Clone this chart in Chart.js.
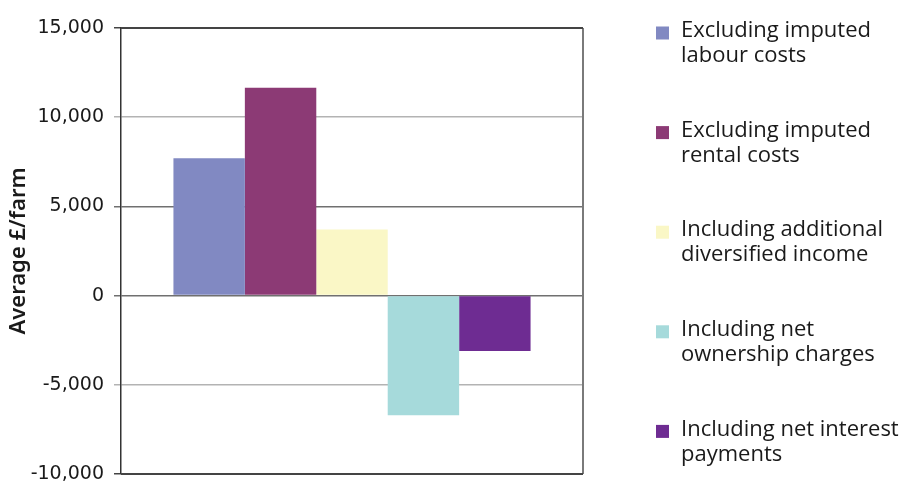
<!DOCTYPE html>
<html>
<head>
<meta charset="utf-8">
<title>Average £/farm</title>
<script src="https://cdn.jsdelivr.net/npm/chart.js@4/dist/chart.umd.min.js"></script>
<style>
  html, body { margin: 0; padding: 0; background: #ffffff; }
  #wrap { width: 904px; height: 486px; position: relative; }
</style>
</head>
<body>
<div id="wrap"><canvas id="chart"></canvas></div>
<script>
// Single category, one bar per measure
const categories = [''];
const seriesLabels = [
  ['Excluding imputed', 'labour costs'],
  ['Excluding imputed', 'rental costs'],
  ['Including additional', 'diversified income'],
  ['Including net', 'ownership charges'],
  ['Including net interest', 'payments']
];
const seriesValues = [7700, 11650, 3700, -6700, -3100];
const seriesColors = ['#8189c2', '#8c3a75', '#faf7c6', '#a6dadb', '#6e2c92'];
const yTicks = [-10000, -5000, 0, 5000, 10000, 15000];
const yTitle = 'Average £/farm';

const datasets = seriesValues.map((v, i) => ({
  label: seriesLabels[i],
  data: [v],
  backgroundColor: seriesColors[i],
  borderWidth: 0
}));

// Frame around the plot area
const framePlugin = {
  id: 'frame',
  afterDatasetsDraw(chart) {
    const { ctx, chartArea: a } = chart;
    ctx.save();
    ctx.lineWidth = 2;
    ctx.strokeStyle = '#7a7a7a';
    ctx.beginPath();
    ctx.moveTo(a.right, a.top);
    ctx.lineTo(a.right, a.bottom);
    ctx.stroke();
    ctx.strokeStyle = '#444444';
    ctx.beginPath();
    ctx.moveTo(a.left, a.top);
    ctx.lineTo(a.right, a.top);
    ctx.moveTo(a.left, a.bottom);
    ctx.lineTo(a.right, a.bottom);
    ctx.stroke();
    ctx.restore();
  }
};

// Two-line legend entries on the right
const sideLegend = {
  id: 'sideLegend',
  afterDraw(chart) {
    const { ctx } = chart;
    const boxX = 656, textX = 681, top = 31, step = 99.6, lineH = 25, box = 13;
    ctx.save();
    ctx.font = '22px "Open Sans"';
    ctx.textBaseline = 'middle';
    ctx.textAlign = 'left';
    chart.data.datasets.forEach((ds, i) => {
      const y = top + i * step;
      ctx.fillStyle = ds.backgroundColor;
      ctx.fillRect(boxX, y + 2 - box / 2, box, box);
      ctx.fillStyle = '#1a1a1a';
      ds.label.forEach((line, j) => ctx.fillText(line, textX, y + j * lineH));
    });
    ctx.restore();
  }
};

new Chart(document.getElementById('chart'), {
  type: 'bar',
  data: { labels: categories, datasets },
  options: {
    responsive: true,
    maintainAspectRatio: false,
    animation: false,
    layout: { padding: { top: 28, right: 321, bottom: 12, left: 0 } },
    datasets: { bar: { categoryPercentage: 0.773, barPercentage: 1 } },
    plugins: {
      legend: { display: false },
      tooltip: { enabled: false }
    },
    scales: {
      x: {
        grid: { display: false, drawTicks: false },
        ticks: { display: false },
        border: { display: false },
        afterFit(scale) { scale.height = 0; scale.paddingLeft = 0; scale.paddingRight = 0; }
      },
      y: {
        min: yTicks[0],
        max: yTicks[yTicks.length - 1],
        afterBuildTicks(scale) { scale.ticks = yTicks.map(v => ({ value: v })); },
        afterFit(scale) { scale.width = 121; scale.paddingTop = 0; scale.paddingBottom = 0; },
        ticks: {
          padding: 10,
          color: '#1a1a1a',
          font: { family: '"DejaVu Sans"', size: 19 },
          callback: v => v.toLocaleString('en-GB')
        },
        grid: {
          tickLength: 7,
          lineWidth: 1.5,
          color: ctx => {
            const v = ctx.tick ? ctx.tick.value : 0;
            if (v === 15000 || v === -10000) return '#444444';
            if (v === 10000 || v === -5000) return '#b3b3b3';
            return '#707070';
          }
        },
        border: { color: '#333333', width: 1.5 },
        title: {
          display: true,
          text: yTitle,
          color: '#1a1a1a',
          font: { family: '"Noto Sans"', size: 22, weight: '600' },
          padding: { top: 6, bottom: 4 }
        }
      }
    }
  },
  plugins: [framePlugin, sideLegend]
});
</script>
</body>
</html>
